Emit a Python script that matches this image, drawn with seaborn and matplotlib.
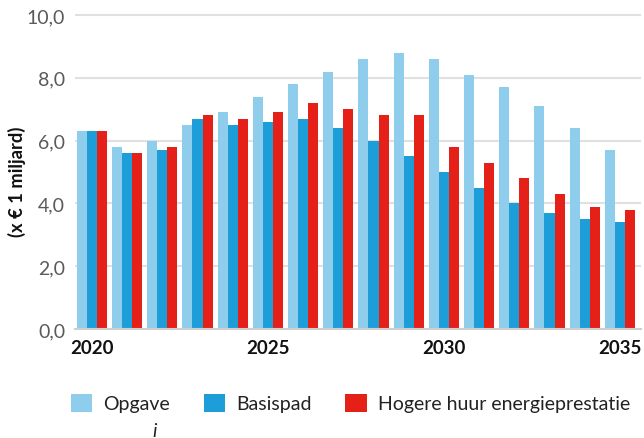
import matplotlib
matplotlib.use("Agg")
import matplotlib.pyplot as plt
from matplotlib.patches import Patch
import seaborn as sns
import pandas as pd

years = [str(y) for y in range(2020, 2036)]
opgave = [6.3, 5.8, 6.0, 6.5, 6.9, 7.4, 7.8, 8.2, 8.6, 8.8, 8.6, 8.1, 7.7, 7.1, 6.4, 5.7]
basispad = [6.3, 5.6, 5.7, 6.7, 6.5, 6.6, 6.7, 6.4, 6.0, 5.5, 5.0, 4.5, 4.0, 3.7, 3.5, 3.4]
hogere_huur = [6.3, 5.6, 5.8, 6.8, 6.7, 6.9, 7.2, 7.0, 6.8, 6.8, 5.8, 5.3, 4.8, 4.3, 3.9, 3.8]
series_names = ["Opgave", "Basispad", "Hogere huur energieprestatie"]
colors = ["#8ecdeb", "#1e9ed9", "#e42018"]
y_ticks = [0, 2, 4, 6, 8, 10]
x_label_years = ["2020", "2025", "2030", "2035"]

df = pd.DataFrame({
    "jaar": years * 3,
    "waarde": opgave + basispad + hogere_huur,
    "reeks": [series_names[0]] * 16 + [series_names[1]] * 16 + [series_names[2]] * 16,
})

sns.set_theme(style="white")
plt.rcParams["font.family"] = ["Lato", "DejaVu Sans"]

W, H = 644, 439
fig = plt.figure(figsize=(W / 100, H / 100), dpi=100)
ax_left, ax_right = 75, 641
ax_bottom_px, ax_top_px = 330, 16
ymax = 10.08
top_px = ax_bottom_px - (ax_bottom_px - ax_top_px) * ymax / 10
ax = fig.add_axes([ax_left / W, 1 - ax_bottom_px / H,
                   (ax_right - ax_left) / W, (ax_bottom_px - top_px) / H])

sns.barplot(data=df, x="jaar", y="waarde", hue="reeks", hue_order=series_names,
            palette=colors, width=0.86, saturation=1, ax=ax, legend=False,
            edgecolor="none", linewidth=0)

ax.set_ylim(0, ymax)
ax.set_xlim(-0.48, 15.6)
ax.set_yticks(y_ticks)
ax.set_yticklabels([f"{v:.1f}".replace(".", ",") for v in y_ticks],
                   fontsize=14, color="#5a5a5a")
ax.set_xticks([years.index(y) for y in x_label_years])
ax.set_xticklabels(x_label_years, fontsize=13.5, fontweight="bold", color="#111111")
ax.tick_params(axis="y", length=0, pad=7)
ax.tick_params(axis="x", length=0, pad=7)
ax.set_xlabel("")
ax.set_ylabel("")

ax.yaxis.grid(True, color="#e0e0e0", linewidth=1.5)
ax.set_axisbelow(True)
for side in ["top", "right", "left"]:
    ax.spines[side].set_visible(False)
ax.spines["bottom"].set_color("#cfcfcf")
ax.spines["bottom"].set_linewidth(1.5)

fig.text(17 / W, 1 - 182 / H, "(x € 1 miljard)", rotation=90, ha="center",
         va="center", fontsize=13.2, fontweight="bold", color="#111111")

handles = [Patch(facecolor=c, edgecolor="none", label=n) for c, n in zip(colors, series_names)]
fig.legend(handles=handles, loc="center left", bbox_to_anchor=(71 / W, 1 - 404 / H),
           ncol=3, frameon=False, fontsize=14, handlelength=1.1, handleheight=1.1,
           handletextpad=0.55, columnspacing=1.75, labelcolor="#222222",
           borderpad=0, borderaxespad=0)

fig.text(155 / W, 1 - 432 / H, "i", fontsize=14, style="italic", color="#222222",
         ha="center", va="center")

fig.savefig("out.png", dpi=100)
